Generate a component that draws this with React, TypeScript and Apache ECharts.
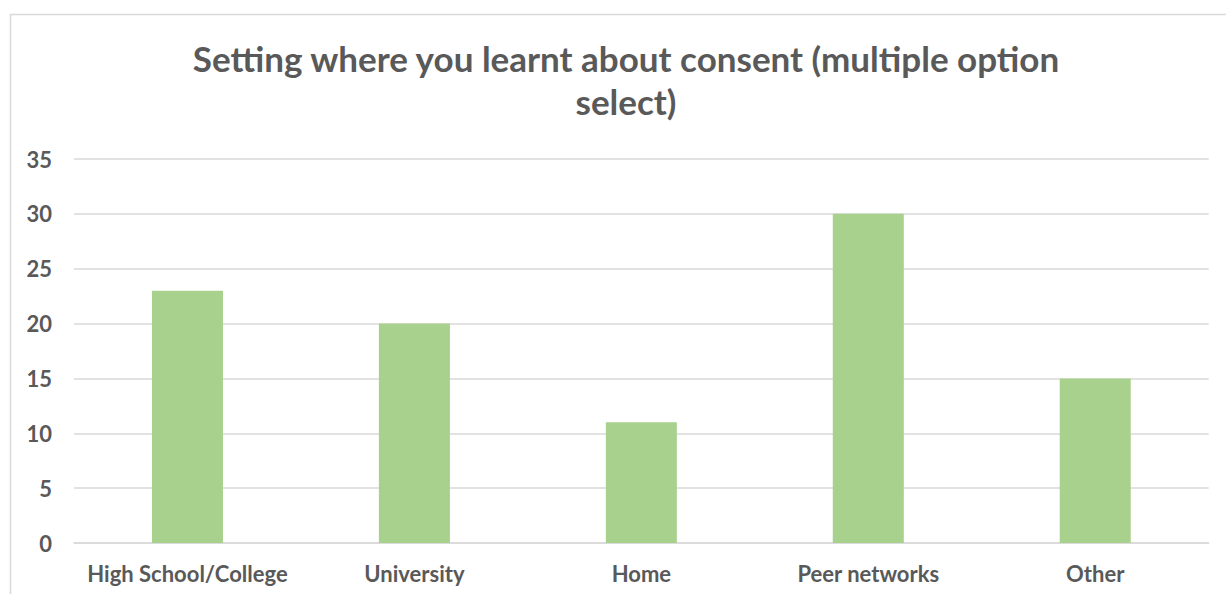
import React, { useEffect, useRef } from "react";
import * as echarts from "echarts";

const categories = ["High School/College", "University", "Home", "Peer networks", "Other"];
const values = [23, 20, 11, 30, 15];
const yTicks = [0, 5, 10, 15, 20, 25, 30, 35];
const titleText = "Setting where you learnt about consent (multiple option\nselect)";

export default function App() {
  const ref = useRef<HTMLDivElement>(null);
  useEffect(() => {
    document.body.style.margin = "0";
    const chart = echarts.init(ref.current!, null, { renderer: "svg" });
    const font = "Lato";
    chart.setOption({
      animation: false,
      backgroundColor: "#ffffff",
      graphic: [
        {
          type: "rect",
          shape: { x: 10.5, y: 14.5, width: 1240, height: 620 },
          style: { fill: "none", stroke: "#d9d9d9", lineWidth: 1.5 },
          silent: true,
        },
      ],
      title: {
        text: titleText,
        left: 621,
        textAlign: "center",
        top: 31,
        textStyle: {
          fontFamily: font,
          fontWeight: "bold",
          fontSize: 35,
          lineHeight: 43,
          color: "#595959",
        },
      },
      grid: { left: 74, right: 17.3, top: 159, bottom: 51, containLabel: false },
      xAxis: {
        type: "category",
        data: categories,
        axisLine: { show: true, lineStyle: { color: "#d9d9d9", width: 1.5 } },
        axisTick: { show: false },
        axisLabel: {
          fontFamily: font,
          fontWeight: "bold",
          fontSize: 22,
          color: "#595959",
          margin: 19,
          interval: 0,
        },
      },
      yAxis: {
        type: "value",
        min: yTicks[0],
        max: yTicks[yTicks.length - 1],
        interval: 5,
        axisLine: { show: false },
        axisTick: { show: false },
        splitLine: { lineStyle: { color: "#d9d9d9", width: 1.5 } },
        axisLabel: {
          fontFamily: font,
          fontWeight: "bold",
          fontSize: 22,
          color: "#595959",
          margin: 22,
        },
      },
      series: [
        {
          type: "bar",
          data: values,
          barWidth: "31.3%",
          itemStyle: { color: "#a9d18e" },
        },
      ],
    });
    return () => chart.dispose();
  }, []);
  return <div ref={ref} style={{ width: 1226, height: 594 }} />;
}
